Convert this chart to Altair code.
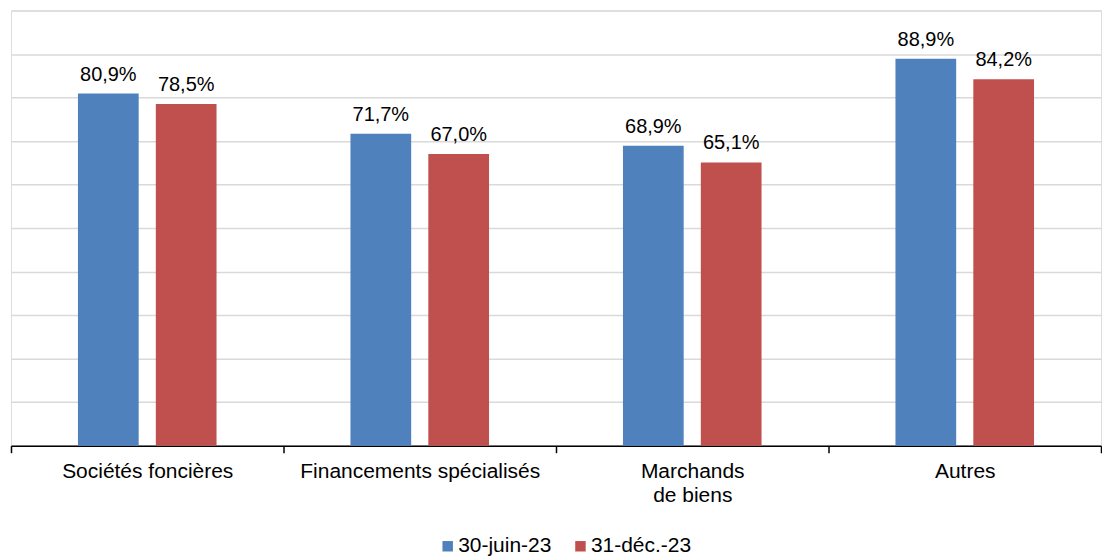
import altair as alt
import pandas as pd

categories = ["Sociétés foncières", "Financements spécialisés", "Marchands de biens", "Autres"]
series = ["30-juin-23", "31-déc.-23"]
values_jun = [80.9, 71.7, 68.9, 88.9]
values_dec = [78.5, 67.0, 65.1, 84.2]
colors = ["#4F81BD", "#C0504D"]

rows = []
for cat, a, b in zip(categories, values_jun, values_dec):
    for s, v in zip(series, [a, b]):
        rows.append({"cat": cat, "series": s, "value": v,
                     "label": f"{v:.1f}%".replace(".", ",")})
df = pd.DataFrame(rows)

FONT = "Liberation Sans"

x_enc = alt.X("cat:N", sort=categories, title=None,
              scale=alt.Scale(paddingInner=0, paddingOuter=0),
              axis=alt.Axis(labelAngle=0, labelFontSize=21, labelFont=FONT,
                            labelColor="#000000", domainColor="#000000",
                            domainWidth=1.5, tickColor="#000000", tickSize=7,
                            tickWidth=1.5, tickBand="extent", grid=False,
                            labelPadding=8, labelLineHeight=24, labelLimit=400,
                            labelExpr="datum.value == 'Marchands de biens' ? ['Marchands', 'de biens'] : datum.label"))
xoff = alt.XOffset("series:N", sort=series,
                   scale=alt.Scale(paddingInner=0.22, paddingOuter=0.86))
y_enc = alt.Y("value:Q", title=None,
              scale=alt.Scale(domain=[0, 100], nice=False),
              axis=alt.Axis(labels=False, ticks=False, domain=False,
                            values=list(range(0, 101, 10)),
                            gridColor="#d9d9d9", gridWidth=1.5))

bars = alt.Chart(df).mark_bar().encode(
    x=x_enc, xOffset=xoff, y=y_enc,
    color=alt.Color("series:N", sort=series,
                    scale=alt.Scale(domain=series, range=colors),
                    legend=alt.Legend(title=None, orient="none", direction="horizontal",
                                      legendX=427, legendY=526,
                                      symbolType="square", symbolSize=110,
                                      symbolStrokeWidth=0, labelFontSize=21,
                                      labelFont=FONT, labelColor="#000000",
                                      labelOffset=0, columnPadding=18))
)

texts = alt.Chart(df).mark_text(baseline="alphabetic", dy=-13, fontSize=20,
                                font=FONT, color="#000000").encode(
    x=x_enc, xOffset=xoff, y=y_enc, text="label:N"
)

chart = (bars + texts).properties(
    width=1092, height=436,
    padding={"left": 2, "top": 2, "right": 0, "bottom": 0}
).configure_view(stroke=None, strokeWidth=0).configure_axisX(grid=False).configure_axisY(
    domain=False, ticks=False
).configure(background="white")

chart.save("out.html", embed_options={"renderer": "svg", "actions": False})
